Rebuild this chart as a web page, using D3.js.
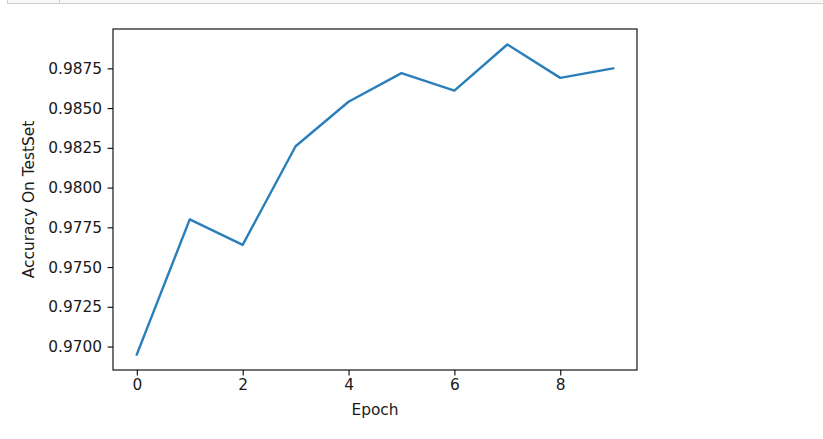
<!DOCTYPE html>
<html>
<head>
<meta charset="utf-8">
<script src="https://cdn.jsdelivr.net/npm/d3@7"></script>
<style>
  html, body { margin: 0; padding: 0; background: #fff; }
  svg { display: block; }
  text { font-family: "DejaVu Sans", sans-serif; fill: #1a1a1a; }
</style>
</head>
<body>
<svg id="chart" width="823" height="439"></svg>
<script>
const epochs = [0, 1, 2, 3, 4, 5, 6, 7, 8, 9];
const accuracy = [0.9695, 0.9780, 0.9764, 0.9826, 0.9854, 0.9872, 0.9861, 0.9890, 0.9869, 0.9875];
const xTicks = [0, 2, 4, 6, 8];
const yTicks = [0.9700, 0.9725, 0.9750, 0.9775, 0.9800, 0.9825, 0.9850, 0.9875];
const xLabel = "Epoch";
const yLabel = "Accuracy On TestSet";

const svg = d3.select("#chart");
const W = 823, H = 439;
const plot = { left: 113, right: 637, top: 29, bottom: 370 };

// notebook cell edge at top
svg.append("rect").attr("x", 7.5).attr("y", -2).attr("width", W).attr("height", 5.5)
  .attr("fill", "#f7f7f7").attr("stroke", "#cfcfcf").attr("stroke-width", 1);
svg.append("line").attr("x1", 59.5).attr("x2", 59.5).attr("y1", 0).attr("y2", 3)
  .attr("stroke", "#cfcfcf").attr("stroke-width", 1);

const xMin = d3.min(epochs), xMax = d3.max(epochs);
const xPad = (xMax - xMin) * 0.05;
const yMin = d3.min(accuracy), yMax = d3.max(accuracy);
const yPad = (yMax - yMin) * 0.05;

const x = d3.scaleLinear().domain([xMin - xPad, xMax + xPad]).range([plot.left, plot.right]);
const y = d3.scaleLinear().domain([yMin - yPad, yMax + yPad]).range([plot.bottom, plot.top]);

const fs = 15.4;

// line
const line = d3.line().x((d, i) => x(epochs[i])).y(d => y(d));
svg.append("path").datum(accuracy)
  .attr("d", line)
  .attr("fill", "none")
  .attr("stroke", "#2a7fbb")
  .attr("stroke-width", 2.4)
  .attr("stroke-linejoin", "round")
  .attr("stroke-linecap", "square");

// axes
const xAxis = d3.axisBottom(x).tickValues(xTicks).tickFormat(d3.format("d")).tickSizeInner(5.4).tickSizeOuter(0).tickPadding(4);
const yAxis = d3.axisLeft(y).tickValues(yTicks).tickFormat(d3.format(".4f")).tickSizeInner(5.4).tickSizeOuter(0).tickPadding(5.5);

const gx = svg.append("g").attr("transform", `translate(0,${plot.bottom})`).call(xAxis);
const gy = svg.append("g").attr("transform", `translate(${plot.left},0)`).call(yAxis);
[gx, gy].forEach(g => {
  g.select(".domain").remove();
  g.selectAll(".tick line").attr("stroke", "#000").attr("stroke-width", 1.1);
  g.selectAll(".tick text").attr("font-size", fs).attr("font-family", "DejaVu Sans").attr("fill", "#1a1a1a");
});

// spines
svg.append("rect")
  .attr("x", plot.left).attr("y", plot.top)
  .attr("width", plot.right - plot.left).attr("height", plot.bottom - plot.top)
  .attr("fill", "none").attr("stroke", "#000").attr("stroke-width", 1.1);

// labels
svg.append("text")
  .attr("x", (plot.left + plot.right) / 2).attr("y", 415)
  .attr("text-anchor", "middle").attr("font-size", fs)
  .text(xLabel);
svg.append("text")
  .attr("transform", `translate(34,${(plot.top + plot.bottom) / 2}) rotate(-90)`)
  .attr("text-anchor", "middle").attr("font-size", fs)
  .text(yLabel);
</script>
</body>
</html>
